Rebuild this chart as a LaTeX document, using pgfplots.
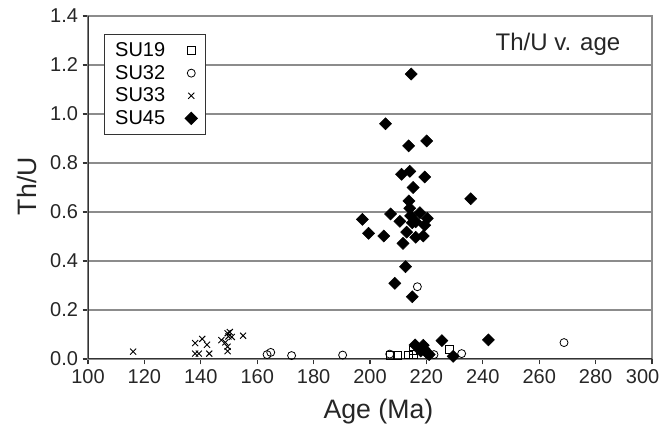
\documentclass[border=0pt]{standalone}
\usepackage{pgfplots}
\pgfplotsset{compat=1.18}
\usepackage{fontspec}
\setmainfont{Liberation Sans}
\definecolor{gridgray}{HTML}{8C8C8C}
\definecolor{axdark}{HTML}{333333}
\begin{document}
\begin{tikzpicture}
\begin{axis}[
  at={(0,0)}, anchor=south west,
  scale only axis, width=423pt, height=257.25pt,
  xmin=100, xmax=300, ymin=0, ymax=1.4,
  xtick={100,120,140,160,180,200,220,240,260,280},
  extra x ticks={300}, extra x tick labels={300},
  extra x tick style={xticklabel style={xshift=-7pt}},
  ytick={0,0.2,0.4,0.6,0.8,1.0,1.2,1.4},
  ymajorgrids, grid style={gridgray, line width=0.9pt},
  axis line style={gridgray, line width=0.9pt},
  tick style={axdark, line width=0.8pt},
  tick align=outside, major tick length=4pt,
  xtick pos=left, ytick pos=left,
  /pgf/number format/assume math mode=true,
  tick label style={font=\fontsize{15}{17}\selectfont, text=black!85},
  yticklabel style={/pgf/number format/fixed, /pgf/number format/fixed zerofill, /pgf/number format/precision=1},
  xticklabel style={/pgf/number format/fixed, /pgf/number format/precision=0},
  xlabel={Age (Ma)}, ylabel={Th/U},
  xlabel style={at={(axis description cs:0.515,-0.152)}, anchor=center, font=\fontsize{20}{23}\selectfont, text=black!85},
  ylabel style={at={(axis description cs:-0.108,0.504)}, anchor=center, rotate=0, font=\fontsize{20}{23}\selectfont, text=black!85},
  legend plot pos=right, legend cell align=left,
  legend style={at={(rel axis cs:0.0284,0.9475)}, anchor=north west, draw=axdark, line width=0.8pt, fill=white,
    font=\fontsize{15}{17}\selectfont, row sep=1pt, column sep=13pt, inner xsep=6pt, inner ysep=4pt},
]
\addplot[only marks, mark=square, mark size=2.9pt, mark options={draw=black, line width=0.6pt, fill=white}]
coordinates {(207.2,0.016) (209.8,0.014) (213.7,0.017) (215.2,0.036) (215.3,0.020) (228.1,0.038)};
\addlegendentry{SU19}
\addplot[only marks, mark=o, mark size=3pt, mark options={draw=black, line width=0.6pt, fill=white}]
coordinates {(163.5,0.018) (164.8,0.027) (172.2,0.014) (190.3,0.016) (207.0,0.020) (216.8,0.295) (222.7,0.018) (232.5,0.022) (268.8,0.067)};
\addlegendentry{SU32}
\addplot[only marks, mark=x, mark size=3.2pt, mark options={draw=black, line width=0.7pt}]
coordinates {(116,0.030) (138,0.065) (138,0.022) (139.3,0.022) (140.5,0.082) (142.2,0.058) (143,0.022) (147.3,0.077) (148.7,0.068) (149.5,0.105) (150.3,0.110) (149.8,0.092) (151,0.090) (149.5,0.050) (149.5,0.032) (155,0.095)};
\addlegendentry{SU33}
\addplot[only marks, mark=square*, mark size=3.2pt, mark options={rotate=45, draw=black, fill=black}]
coordinates {(214.6,1.163) (205.5,0.96) (220.1,0.89) (213.7,0.87) (211.2,0.754) (214.1,0.766) (219.4,0.743) (215.3,0.70) (235.7,0.654) (213.8,0.645) (214.1,0.615) (197.3,0.570) (207.3,0.592) (210.6,0.562) (214.4,0.584) (217.7,0.597) (220.3,0.574) (215.0,0.556) (216.2,0.560) (219.4,0.546) (199.5,0.513) (204.9,0.502) (213.0,0.518) (216.2,0.497) (218.9,0.502) (211.7,0.472) (212.6,0.377) (208.8,0.309) (215.0,0.254) (216.0,0.057) (218.9,0.056) (219.1,0.042) (218.0,0.033) (220.3,0.024) (221.0,0.018) (225.5,0.075) (229.5,0.011) (242.0,0.078)};
\addlegendentry{SU45}
\draw[axdark, line width=0.9pt] (rel axis cs:0,1) -- (rel axis cs:0,0) -- (rel axis cs:1,0);
\node[anchor=east, font=\fontsize{18}{20}\selectfont, text=black!85] at (rel axis cs:0.952,0.918) {Th/U v. age};
\end{axis}
\pgfresetboundingbox
\path (-66pt,-59.25pt) rectangle (429pt,269.25pt);
\end{tikzpicture}
\end{document}
